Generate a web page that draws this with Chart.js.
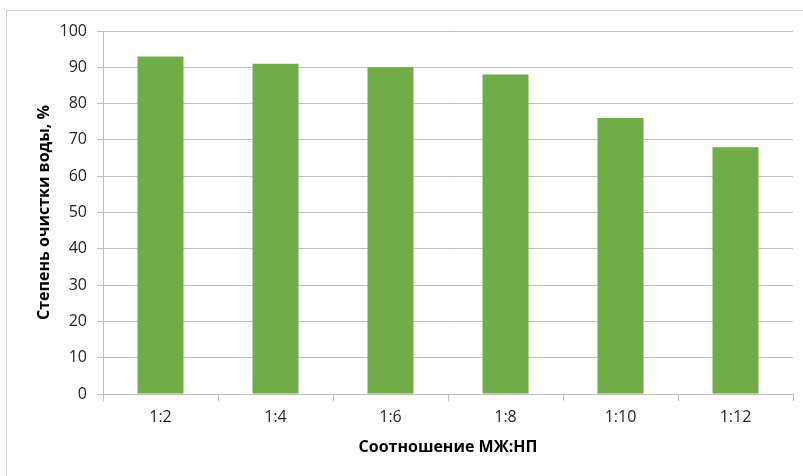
<!DOCTYPE html>
<html>
<head>
<meta charset="utf-8">
<script src="https://cdn.jsdelivr.net/npm/chart.js@4"></script>
<style>
  html, body { margin: 0; padding: 0; background: #fff; }
  body { width: 803px; height: 476px; position: relative; overflow: hidden; }
  .frame { position: absolute; left: 6px; top: 10px; width: 820px; height: 500px; border: 1px solid #d0d0d0; box-sizing: border-box; }
  canvas { position: absolute; left: 0; top: 0; }
</style>
</head>
<body>
<div class="frame"></div>
<canvas id="chart" width="803" height="476"></canvas>
<script>
const ratios = ["1:2", "1:4", "1:6", "1:8", "1:10", "1:12"];
const purification = [93, 91, 90, 88, 76, 68];
const yTicks = [0, 10, 20, 30, 40, 50, 60, 70, 80, 90, 100];

const font = "'Open Sans', 'Liberation Sans', sans-serif";
const ctx = document.getElementById("chart").getContext("2d");

new Chart(ctx, {
  type: "bar",
  data: {
    labels: ratios,
    datasets: [{
      data: purification,
      backgroundColor: "#70ad47",
      categoryPercentage: 0.4,
      barPercentage: 1
    }]
  },
  options: {
    responsive: false,
    animation: false,
    layout: { padding: { top: 31, right: 10, left: 0, bottom: 0 } },
    plugins: { legend: { display: false }, tooltip: { enabled: false } },
    scales: {
      x: {
        afterFit: s => { s.height = 82; },
        grid: { drawOnChartArea: false, drawTicks: true, tickLength: 7, color: "#bfbfbf" },
        border: { color: "#bfbfbf" },
        ticks: { color: "#262626", font: { family: font, size: 16 }, padding: 7 },
        title: {
          display: true,
          text: "Соотношение МЖ:НП",
          color: "#000",
          font: { family: font, size: 16, weight: "bold" },
          padding: { top: 4, bottom: 19 }
        }
      },
      y: {
        min: 0,
        max: 100,
        afterFit: s => { s.width = 103; },
        afterBuildTicks: s => { s.ticks = yTicks.map(v => ({ value: v })); },
        grid: { color: "#bfbfbf", tickLength: 6 },
        border: { color: "#bfbfbf" },
        ticks: { color: "#262626", font: { family: font, size: 16 }, padding: 10 },
        title: {
          display: true,
          text: "Степень очистки воды, %",
          color: "#000",
          font: { family: font, size: 16, weight: "bold" },
          padding: { top: 35, bottom: 35 }
        }
      }
    }
  }
});
</script>
</body>
</html>
